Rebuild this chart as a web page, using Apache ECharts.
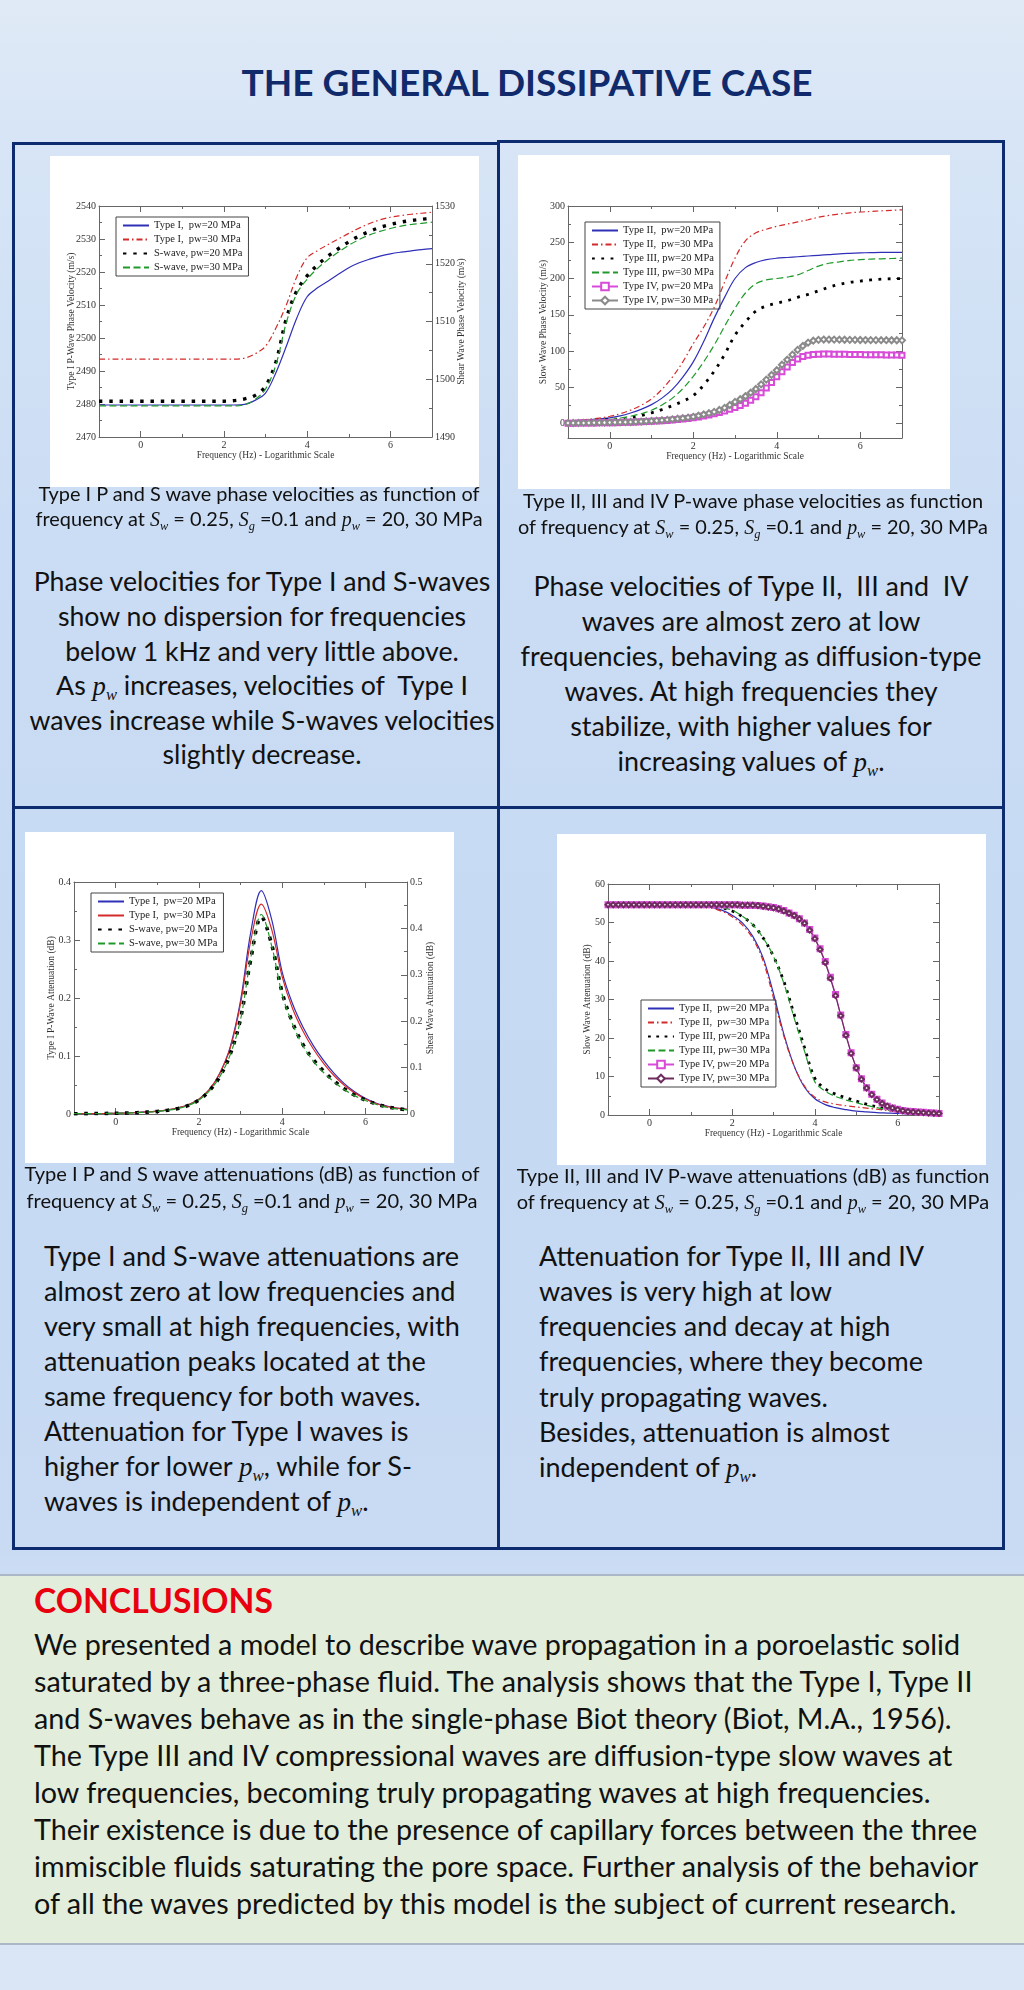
<!DOCTYPE html>
<html><head><meta charset="utf-8">
<script src="https://cdn.jsdelivr.net/npm/echarts@6.0.0/dist/echarts.min.js"></script>
<style>
html,body{margin:0;padding:0;background:#d8e5f5}
#page{position:relative;width:1024px;height:1990px;overflow:hidden;
 background:linear-gradient(180deg,#e0eaf6 0px,#d7e5f6 140px,#cbddf4 520px,#c5d9f3 1100px,#c9dbf3 1550px,#d6e3f5 1700px,#dae6f5 1990px);
 font-family:Lato,'Open Sans',sans-serif;color:#111}
.box{position:absolute;box-sizing:border-box;border:3px solid #0d2b6f}
.hl{position:absolute;background:#0d2b6f}
.chart{position:absolute;background:#fff}
.ln{position:absolute;height:40px;line-height:40px;white-space:nowrap}
.c{text-align:center;width:700px}
.m{font-family:'Liberation Serif','DejaVu Serif',serif;font-style:italic}
sub{font-family:'Liberation Serif','DejaVu Serif',serif;font-style:italic;font-size:0.62em;vertical-align:-0.3em;line-height:0}
#concl{position:absolute;left:-2px;top:1574px;width:1028px;height:371px;box-sizing:border-box;background:#e2eedb;border:2px solid #a9b7c7}
</style></head>
<body><div id="page">

<div class="ln c" data-g="title" style="left:177px;top:62px;font-size:34px;font-weight:700;color:#102a6c"><span>THE GENERAL DISSIPATIVE CASE</span></div>

<div class="box" style="left:12px;top:142px;width:488px;height:1408px"></div>
<div class="box" style="left:497px;top:140px;width:508px;height:1410px"></div>
<div class="hl" style="left:12px;top:806px;width:993px;height:3px"></div>

<div class="chart" id="c1" style="left:50px;top:156px;width:429px;height:331px"></div>
<div class="chart" id="c2" style="left:518px;top:155px;width:432px;height:334px"></div>
<div class="chart" id="c3" style="left:25px;top:832px;width:429px;height:331px"></div>
<div class="chart" id="c4" style="left:557px;top:834px;width:429px;height:331px"></div>

<div class="ln c" data-g="cap1" style="left:-91px;top:473px;font-size:18px"><span>Type I P and S wave phase velocities as function of</span></div>
<div class="ln c" data-g="cap1" style="left:-91px;top:498px;font-size:18px"><span>frequency at <span class="m">S</span><sub>w</sub> = 0.25, <span class="m">S</span><sub>g</sub> =0.1 and <span class="m">p</span><sub>w</sub> = 20, 30 MPa</span></div>

<div class="ln c" data-g="cap2" style="left:403px;top:480px;font-size:18px"><span>Type II, III and IV P-wave phase velocities as function</span></div>
<div class="ln c" data-g="cap2" style="left:403px;top:506px;font-size:18px"><span>of frequency at <span class="m">S</span><sub>w</sub> = 0.25, <span class="m">S</span><sub>g</sub> =0.1 and <span class="m">p</span><sub>w</sub> = 20, 30 MPa</span></div>

<div class="ln c" data-g="body1" style="left:-88px;top:561px;font-size:24px"><span>Phase velocities for Type I and S-waves</span></div>
<div class="ln c" data-g="body1" style="left:-88px;top:596px;font-size:24px"><span>show no dispersion for frequencies</span></div>
<div class="ln c" data-g="body1" style="left:-88px;top:631px;font-size:24px"><span>below 1 kHz and very little above.</span></div>
<div class="ln c" data-g="body1" style="left:-88px;top:665px;font-size:24px"><span>As <span class="m">p</span><sub>w</sub> increases, velocities of &nbsp;Type I</span></div>
<div class="ln c" data-g="body1" style="left:-88px;top:700px;font-size:24px"><span>waves increase while S-waves velocities</span></div>
<div class="ln c" data-g="body1" style="left:-88px;top:734px;font-size:24px"><span>slightly decrease.</span></div>

<div class="ln c" data-g="body2" style="left:401px;top:566px;font-size:24px"><span>Phase velocities of Type II, &nbsp;III and &nbsp;IV</span></div>
<div class="ln c" data-g="body2" style="left:401px;top:601px;font-size:24px"><span>waves are almost zero at low</span></div>
<div class="ln c" data-g="body2" style="left:401px;top:636px;font-size:24px"><span>frequencies, behaving as diffusion-type</span></div>
<div class="ln c" data-g="body2" style="left:401px;top:671px;font-size:24px"><span>waves. At high frequencies they</span></div>
<div class="ln c" data-g="body2" style="left:401px;top:706px;font-size:24px"><span>stabilize, with higher values for</span></div>
<div class="ln c" data-g="body2" style="left:401px;top:741px;font-size:24px"><span>increasing values of <span class="m">p</span><sub>w</sub>.</span></div>

<div class="ln c" data-g="cap3" style="left:-98px;top:1153px;font-size:18px"><span>Type I P and S wave attenuations (dB) as function of</span></div>
<div class="ln c" data-g="cap3" style="left:-98px;top:1180px;font-size:18px"><span>frequency at <span class="m">S</span><sub>w</sub> = 0.25, <span class="m">S</span><sub>g</sub> =0.1 and <span class="m">p</span><sub>w</sub> = 20, 30 MPa</span></div>

<div class="ln c" data-g="cap4" style="left:403px;top:1155px;font-size:18px"><span>Type II, III and IV P-wave attenuations (dB) as function</span></div>
<div class="ln c" data-g="cap4" style="left:403px;top:1181px;font-size:18px"><span>of frequency at <span class="m">S</span><sub>w</sub> = 0.25, <span class="m">S</span><sub>g</sub> =0.1 and <span class="m">p</span><sub>w</sub> = 20, 30 MPa</span></div>

<div class="ln" data-g="body3" style="left:44px;top:1236px;font-size:24px"><span>Type I and S-wave attenuations are</span></div>
<div class="ln" data-g="body3" style="left:44px;top:1271px;font-size:24px"><span>almost zero at low frequencies and</span></div>
<div class="ln" data-g="body3" style="left:44px;top:1306px;font-size:24px"><span>very small at high frequencies, with</span></div>
<div class="ln" data-g="body3" style="left:44px;top:1341px;font-size:24px"><span>attenuation peaks located at the</span></div>
<div class="ln" data-g="body3" style="left:44px;top:1376px;font-size:24px"><span>same frequency for both waves.</span></div>
<div class="ln" data-g="body3" style="left:44px;top:1411px;font-size:24px"><span>Attenuation for Type I waves is</span></div>
<div class="ln" data-g="body3" style="left:44px;top:1446px;font-size:24px"><span>higher for lower <span class="m">p</span><sub>w</sub>, while for S-</span></div>
<div class="ln" data-g="body3" style="left:44px;top:1481px;font-size:24px"><span>waves is independent of <span class="m">p</span><sub>w</sub>.</span></div>

<div class="ln" data-g="body4" style="left:539px;top:1236px;font-size:24px"><span>Attenuation for Type II, III and IV</span></div>
<div class="ln" data-g="body4" style="left:539px;top:1271px;font-size:24px"><span>waves is very high at low</span></div>
<div class="ln" data-g="body4" style="left:539px;top:1306px;font-size:24px"><span>frequencies and decay at high</span></div>
<div class="ln" data-g="body4" style="left:539px;top:1341px;font-size:24px"><span>frequencies, where they become</span></div>
<div class="ln" data-g="body4" style="left:539px;top:1377px;font-size:24px"><span>truly propagating waves.</span></div>
<div class="ln" data-g="body4" style="left:539px;top:1412px;font-size:24px"><span>Besides, attenuation is almost</span></div>
<div class="ln" data-g="body4" style="left:539px;top:1447px;font-size:24px"><span>independent of <span class="m">p</span><sub>w</sub>.</span></div>

<div id="concl"></div>
<div class="ln" data-g="ctitle" style="left:34px;top:1580px;font-size:34px;font-weight:700;color:#e8000f"><span>CONCLUSIONS</span></div>
<div class="ln" data-g="cbody" style="left:34px;top:1624px;font-size:27px"><span>We presented a model to describe wave propagation in a poroelastic solid</span></div>
<div class="ln" data-g="cbody" style="left:34px;top:1661px;font-size:27px"><span>saturated by a three-phase fluid. The analysis shows that the Type I, Type II</span></div>
<div class="ln" data-g="cbody" style="left:34px;top:1698px;font-size:27px"><span>and S-waves behave as in the single-phase Biot theory (Biot, M.A., 1956).</span></div>
<div class="ln" data-g="cbody" style="left:34px;top:1735px;font-size:27px"><span>The Type III and IV compressional waves are diffusion-type slow waves at</span></div>
<div class="ln" data-g="cbody" style="left:34px;top:1772px;font-size:27px"><span>low frequencies, becoming truly propagating waves at high frequencies.</span></div>
<div class="ln" data-g="cbody" style="left:34px;top:1809px;font-size:27px"><span>Their existence is due to the presence of capillary forces between the three</span></div>
<div class="ln" data-g="cbody" style="left:34px;top:1846px;font-size:27px"><span>immiscible fluids saturating the pore space. Further analysis of the behavior</span></div>
<div class="ln" data-g="cbody" style="left:34px;top:1883px;font-size:27px"><span>of all the waves predicted by this model is the subject of current research.</span></div>

</div>
<script>
// ---------------- data ----------------
const freqQ = [-1,-0.75,-0.5,-0.25,0,0.25,0.5,0.75,1,1.25,1.5,1.75,2,2.25,2.5,2.75,3,3.25,3.5,3.75,4,4.25,4.5,4.75,5,5.25,5.5,5.75,6,6.25,6.5,6.75,7];
const freqE = [-1,-0.875,-0.75,-0.625,-0.5,-0.375,-0.25,-0.125,0,0.125,0.25,0.375,0.5,0.625,0.75,0.875,1,1.125,1.25,1.375,1.5,1.625,1.75,1.875,2,2.125,2.25,2.375,2.5,2.625,2.75,2.875,3,3.125,3.25,3.375,3.5,3.625,3.75,3.875,4,4.125,4.25,4.375,4.5,4.625,4.75,4.875,5,5.125,5.25,5.375,5.5,5.625,5.75,5.875,6,6.125,6.25,6.375,6.5,6.625,6.75,6.875,7];

// chart 1: phase velocities Type I (left axis) and S-wave (right axis)
const velTypeI20 = [2479.7,2479.7,2479.7,2479.7,2479.7,2479.7,2479.7,2479.7,2479.7,2479.7,2479.7,2479.7,2479.7,2479.7,2479.9,2481.1,2483.3,2489.5,2497.5,2506.0,2512.5,2515.2,2517.2,2519.3,2521.3,2522.8,2523.9,2524.8,2525.5,2526.0,2526.4,2526.8,2527.1];
const velTypeI30 = [2493.6,2493.6,2493.6,2493.6,2493.6,2493.6,2493.6,2493.6,2493.6,2493.6,2493.6,2493.6,2493.6,2493.6,2493.9,2495.2,2497.5,2503.0,2510.0,2518.5,2524.3,2526.5,2528.3,2530.0,2531.7,2533.3,2534.7,2535.8,2536.6,2537.1,2537.5,2537.8,2538.1];
const velS20 = [1496.2,1496.2,1496.2,1496.2,1496.2,1496.2,1496.2,1496.2,1496.2,1496.2,1496.2,1496.2,1496.2,1496.3,1496.6,1497.2,1498.8,1503.0,1510.5,1515.3,1517.9,1519.8,1521.3,1522.6,1523.8,1524.8,1525.6,1526.3,1526.8,1527.2,1527.5,1527.7,1527.9];
const velS30 = [1495.4,1495.4,1495.4,1495.4,1495.4,1495.4,1495.4,1495.4,1495.4,1495.4,1495.4,1495.4,1495.4,1495.4,1495.6,1496.5,1498.3,1502.5,1509.8,1514.8,1517.3,1519.2,1520.7,1522.0,1523.2,1524.2,1525.0,1525.6,1526.1,1526.5,1526.8,1527.0,1527.2];

// chart 2: slow wave phase velocities
const velII20 = [3.2,4.2,5.2,6.4,7.8,10.5,14.5,19.5,26,35,47,64,85,113,145,174,200,215,222,226,228,229,230,231,232,233,234,234.7,235.3,235.7,236,236,236];
const velII30 = [3.5,4.5,5.8,7.5,10,13.5,18.5,25,34,47,64,85,110,133,160,195,228,252,263,268,272,275,278,281,284.5,287,289,290.5,291.7,292.5,293.3,294,294.7];
const velIII20 = [1.8,2.3,3.2,4.6,5.5,6.4,7.8,11,14.7,19.2,24.7,30.7,38.5,53,72,95,122,140,155,162,166,169.5,174,178,183,188,192,194.7,196.5,198,199,199.7,200];
const velIII30 = [1.8,2.5,3.2,4.3,5.5,7.5,10,13.5,18.3,25.5,35,48,65,85,108,134,159,180,193,198,200,202,205,211,217,221,223,225,226,226.7,227.2,227.6,228];
const velIV20 = [0.5,0.5,0.6,0.6,0.7,0.8,0.9,1.0,1.1,1.2,1.4,1.6,1.8,2.0,2.3,2.6,3.0,3.4,3.8,4.3,4.9,5.5,6.2,7.0,7.9,9.0,10.3,11.7,13.3,15.2,17.3,19.6,22.0,24.8,28.0,32.0,36.8,42.5,49.0,56.5,64.5,71.5,78.0,84.0,89.0,92.3,94.3,95.2,95.6,95.7,95.7,95.6,95.5,95.4,95.3,95.2,95.1,95.0,94.9,94.8,94.7,94.6,94.5,94.4,94.3];
const velIV30 = [0.6,0.7,0.7,0.8,0.9,1.0,1.1,1.2,1.3,1.5,1.7,1.9,2.1,2.4,2.7,3.1,3.5,4.0,4.5,5.1,5.8,6.5,7.3,8.2,9.2,10.7,12.4,14.1,16.0,18.6,21.5,25.5,29.8,33.5,37.6,42.5,47.6,54.0,60.5,67.0,73.5,81.0,88.0,95.0,101.5,107.0,111.5,114.2,115.4,115.8,115.8,115.7,115.6,115.5,115.4,115.3,115.2,115.1,115.0,115.0,114.9,114.9,114.8,114.8,114.7];

// chart 3: attenuations Type I (left axis) and S-wave (right axis)
const attI20 = [0.0005,0.0006,0.0008,0.0010,0.0013,0.0018,0.0025,0.0035,0.0050,0.0072,0.0105,0.0160,0.0255,0.042,0.070,0.115,0.195,0.315,0.385,0.335,0.245,0.190,0.150,0.118,0.092,0.070,0.052,0.038,0.027,0.019,0.014,0.010,0.008];
const attI30 = [0.0005,0.0006,0.0008,0.0010,0.0013,0.0018,0.0025,0.0035,0.0050,0.0072,0.0105,0.0160,0.0255,0.042,0.070,0.113,0.190,0.300,0.362,0.318,0.237,0.182,0.143,0.112,0.087,0.066,0.049,0.036,0.026,0.018,0.013,0.010,0.008];
const attS20 = [0.0006,0.0008,0.001,0.0012,0.0015,0.002,0.0028,0.004,0.0055,0.008,0.0118,0.0185,0.030,0.050,0.080,0.128,0.205,0.335,0.425,0.365,0.262,0.197,0.150,0.117,0.092,0.071,0.054,0.040,0.030,0.022,0.016,0.012,0.009];
const attS30 = [0.0006,0.0008,0.001,0.0012,0.0015,0.002,0.0028,0.004,0.0055,0.008,0.0118,0.0185,0.030,0.050,0.080,0.127,0.203,0.338,0.430,0.362,0.258,0.194,0.147,0.114,0.089,0.069,0.052,0.039,0.029,0.021,0.015,0.011,0.009];

// chart 4: slow wave attenuations
const attII20 = [54.6,54.6,54.6,54.6,54.6,54.6,54.6,54.6,54.6,54.4,54.0,53.2,51.9,49.9,46.4,40.8,31.5,21.0,12.7,7.2,4.2,2.7,1.9,1.4,1.0,0.8,0.6,0.5,0.4,0.35,0.3,0.25,0.2];
const attII30 = [54.6,54.6,54.6,54.6,54.6,54.6,54.6,54.6,54.6,54.3,53.8,52.9,51.5,49.3,45.8,40.0,30.4,20.5,12.7,7.5,4.6,3.4,2.8,2.4,2.1,1.8,1.5,1.2,1.0,0.8,0.65,0.55,0.5];
const attIII20 = [54.6,54.6,54.6,54.6,54.6,54.6,54.6,54.6,54.6,54.6,54.4,53.9,53.0,51.5,49.4,46.0,41.2,34.7,26.1,17.5,9.5,6.8,5.4,4.5,3.6,2.8,2.1,1.5,1.0,0.7,0.5,0.4,0.3];
const attIII30 = [54.6,54.6,54.6,54.6,54.6,54.6,54.6,54.6,54.6,54.6,54.3,53.8,53.2,51.6,49.4,46.0,41.2,34.2,25.2,16.6,8.6,6.2,4.8,3.9,3.2,2.5,1.9,1.4,1.0,0.8,0.6,0.5,0.4];
const attIV20 = [54.6,54.6,54.6,54.6,54.6,54.6,54.6,54.6,54.6,54.6,54.6,54.6,54.6,54.6,54.6,54.6,54.6,54.6,54.6,54.6,54.6,54.6,54.6,54.6,54.6,54.6,54.5,54.5,54.5,54.4,54.3,54.1,53.9,53.6,53.1,52.5,51.9,51.0,49.9,48.2,46.0,43.2,39.9,35.8,31.3,26.0,20.9,16.2,12.3,9.4,7.1,5.4,4.1,3.1,2.3,1.8,1.5,1.2,1.0,0.9,0.8,0.7,0.6,0.5,0.4];
const attIV30 = [54.6,54.6,54.6,54.6,54.6,54.6,54.6,54.6,54.6,54.6,54.6,54.6,54.6,54.6,54.6,54.6,54.6,54.6,54.6,54.6,54.6,54.6,54.6,54.6,54.6,54.6,54.5,54.5,54.5,54.4,54.2,54.0,53.8,53.5,53.0,52.4,51.8,50.9,49.8,48.0,45.8,43.0,39.6,35.5,31.0,25.8,20.7,16.0,12.2,9.3,7.0,5.3,4.0,3.0,2.3,1.8,1.4,1.1,0.9,0.8,0.7,0.6,0.5,0.45,0.4];

// ticks
const xMajorTicks = [0,2,4,6], xMinorTicks = [1,3,5];
const c1LeftTicks = [2470,2480,2490,2500,2510,2520,2530,2540], c1LeftMinor = [2475,2485,2495,2505,2515,2525,2535];
const c1RightTicks = [1490,1500,1510,1520,1530], c1RightMinor = [1495,1505,1515,1525];
const c2Ticks = [0,50,100,150,200,250,300], c2Minor = [25,75,125,175,225,275];
const c3LeftTicks = [0,0.1,0.2,0.3,0.4], c3LeftMinor = [0.05,0.15,0.25,0.35];
const c3RightTicks = [0,0.1,0.2,0.3,0.4,0.5], c3RightMinor = [0.05,0.15,0.25,0.35,0.45];
const c4Ticks = [0,10,20,30,40,50,60], c4Minor = [5,15,25,35,45,55];

// ---------------- helpers ----------------
const SERIF = "'Liberation Serif','DejaVu Serif',serif";
const AXC = '#666';
const BLUE='#2f2fb8', RED='#d42a2a', GREEN='#1f9a2a', MAG='#d84ad8', GRAY='#8a8a8a', PLUM='#6e2c5e';
const XTITLE = 'Frequency (Hz) - Logarithmic Scale';

function ax(pos, min, max, ticks, len, o){
  o = o || {};
  const a = {type:'value', position:pos, min:min, max:max, offset:0,
    splitLine:{show:false},
    axisLine:{show:!!o.line, onZero:false, lineStyle:{color:AXC, width:1}},
    axisTick:{show:true, inside:true, length:len, customValues:ticks, lineStyle:{color:AXC, width:1}},
    axisLabel:{show:false}, nameMoveOverlap:false};
  if (o.labels) a.axisLabel = {show:true, customValues:ticks, color:'#333', fontFamily:SERIF, fontSize:10, margin:3,
    formatter:(v)=>String(Math.round(v*1000)/1000)};
  if (o.name) { a.name = o.name; a.nameLocation = 'middle'; a.nameGap = o.gap;
    a.nameTextStyle = {fontFamily:SERIF, fontSize:9.5, color:'#333'}; }
  return a;
}
function xAxes(){
  return [ax('bottom',-1,7,xMajorTicks,6,{line:true,labels:true,name:XTITLE,gap:13}),
          ax('bottom',-1,7,xMinorTicks,3),
          ax('top',-1,7,xMajorTicks,6,{line:true}),
          ax('top',-1,7,xMinorTicks,3)];
}
// axis titles sit on the label-less minor axes so they are not pushed away from tick labels
function yAxes(L, R){
  return [ax('left',L.min,L.max,L.major,6,{line:true,labels:true}),
          ax('left',L.min,L.max,L.minor,3,{name:L.name,gap:L.gap}),
          ax('right',R.min,R.max,R.major,6,{line:true,labels:R.labels}),
          ax('right',R.min,R.max,R.minor,3,{name:R.name,gap:R.gap})];
}
const solid = (c)=>({color:c,width:1.2,type:'solid'});
const dashdot = (c)=>({color:c,width:1.2,type:[6,3,1.5,3]});
const dashed = (c)=>({color:c,width:1.2,type:[7,3.5]});
const dotted = (w,g)=>({color:'#000',width:w,type:[w,g],cap:'butt'});
function S(name, xs, ys, yi, ls, extra){
  return Object.assign({name:name, type:'line', xAxisIndex:0, yAxisIndex:yi,
    data: xs.map((x,i)=>[x, ys[i]]), showSymbol:false, symbol:'none', smooth:0.35,
    lineStyle:ls, itemStyle:{color:ls.color}, emphasis:{disabled:true}, animation:false}, extra||{});
}
// names with markers keep their symbol in the legend; pure lines hide it
function legend(left, top, names, withSym){
  return {orient:'vertical', left:left, top:top, selectedMode:false,
    data: names.map(n => withSym.indexOf(n) >= 0 ? {name:n} : {name:n, itemStyle:{opacity:0}}),
    borderColor:'#444', borderWidth:1, padding:[3,6,3,6], itemGap:3, itemWidth:26, itemHeight:9.5,
    textStyle:{fontFamily:SERIF, fontSize:10.5, color:'#222'}};
}
function mk(id, grid, yA, lg, series){
  const ch = echarts.init(document.getElementById(id), null, {renderer:'canvas'});
  ch.setOption({animation:false, backgroundColor:'#fff', textStyle:{fontFamily:SERIF},
    grid:Object.assign({containLabel:false, outerBoundsMode:'none'}, grid),
    xAxis:xAxes(), yAxis:yA, legend:lg, series:series});
}
const symIV = (sym, c, sz)=>({showSymbol:true, showAllSymbol:true, symbol:sym, symbolSize:sz, smooth:false,
   itemStyle:{color:c, borderColor:c, borderWidth:1}});

// chart 1
const n1 = ['Type I,  pw=20 MPa','Type I,  pw=30 MPa','S-wave, pw=20 MPa','S-wave, pw=30 MPa'];
mk('c1', {left:49,right:47,top:50,bottom:50},
  yAxes({min:2470,max:2540,major:c1LeftTicks,minor:c1LeftMinor,name:'Type I P-Wave Phase Velocity (m/s)',gap:23},
        {min:1490,max:1530,major:c1RightTicks,minor:c1RightMinor,labels:true,name:'Shear Wave Phase Velocity (m/s)',gap:24}),
  legend(66,61,n1,[]),
  [S(n1[0],freqQ,velTypeI20,0,solid(BLUE)), S(n1[1],freqQ,velTypeI30,0,dashdot(RED)),
   S(n1[2],freqQ,velS20,2,dotted(3.4,6.9)), S(n1[3],freqQ,velS30,2,dashed(GREEN))]);

// chart 2
const n2 = ['Type II,  pw=20 MPa','Type II,  pw=30 MPa','Type III, pw=20 MPa','Type III, pw=30 MPa','Type IV, pw=20 MPa','Type IV, pw=30 MPa'];
mk('c2', {left:50,right:48,top:51,bottom:51},
  yAxes({min:-20,max:300,major:c2Ticks,minor:c2Minor,name:'Slow Wave Phase Velocity (m/s)',gap:20},
        {min:-20,max:300,major:c2Ticks,minor:c2Minor,labels:false}),
  legend(67,67,n2,[n2[4],n2[5]]),
  [S(n2[0],freqQ,velII20,0,solid(BLUE)), S(n2[1],freqQ,velII30,0,dashdot(RED)),
   S(n2[2],freqQ,velIII20,0,dotted(2.8,6.5)), S(n2[3],freqQ,velIII30,0,dashed(GREEN)),
   S(n2[4],freqE,velIV20,0,solid(MAG),symIV('emptyRect',MAG,5)),
   S(n2[5],freqE,velIV30,0,solid(GRAY),symIV('emptyDiamond',GRAY,6))]);

// chart 3
const n3 = ['Type I,  pw=20 MPa','Type I,  pw=30 MPa','S-wave, pw=20 MPa','S-wave, pw=30 MPa'];
mk('c3', {left:49,right:47,top:50,bottom:49},
  yAxes({min:0,max:0.4,major:c3LeftTicks,minor:c3LeftMinor,name:'Type I P-Wave Attenuation (dB)',gap:18},
        {min:0,max:0.5,major:c3RightTicks,minor:c3RightMinor,labels:true,name:'Shear Wave Attenuation (dB)',gap:18}),
  legend(66,61,n3,[]),
  [S(n3[0],freqQ,attI20,0,solid(BLUE)), S(n3[1],freqQ,attI30,0,solid(RED)),
   S(n3[2],freqQ,attS20,2,dotted(3.6,6.6)), S(n3[3],freqQ,attS30,2,dashed(GREEN))]);

// chart 4
const n4 = n2;
mk('c4', {left:51,right:47,top:50,bottom:50},
  yAxes({min:0,max:60,major:c4Ticks,minor:c4Minor,name:'Slow Wave Attenuation (dB)',gap:16},
        {min:0,max:60,major:c4Ticks,minor:c4Minor,labels:false}),
  legend(84,166,n4,[n4[4],n4[5]]),
  [S(n4[0],freqQ,attII20,0,solid(BLUE)), S(n4[1],freqQ,attII30,0,dashdot(RED)),
   S(n4[2],freqQ,attIII20,0,dotted(2.8,5.5)), S(n4[3],freqQ,attIII30,0,dashed(GREEN)),
   S(n4[4],freqE,attIV20,0,solid(MAG),symIV('emptyRect',MAG,5)),
   S(n4[5],freqE,attIV30,0,solid(PLUM),symIV('emptyDiamond',PLUM,5))]);

// ---------------- text width fitting ----------------
const TARGETS = {title:571, cap1:447, cap2:470, body1:465, body2:461, cap3:455, cap4:473, body3:416, body4:385, ctitle:239, cbody:944};
function fitAll(){
  const groups = {};
  document.querySelectorAll('.ln').forEach(l=>{ (groups[l.dataset.g] = groups[l.dataset.g] || []).push(l); });
  for (const g in groups){
    const ls = groups[g];
    const fs0 = parseFloat(getComputedStyle(ls[0]).fontSize);
    let mx = 0;
    ls.forEach(l=>{ mx = Math.max(mx, l.firstElementChild.getBoundingClientRect().width); });
    if (mx > 0) { const fs = fs0 * TARGETS[g] / mx; ls.forEach(l=>{ l.style.fontSize = fs + 'px'; }); }
  }
}
fitAll();
if (document.fonts && document.fonts.ready) document.fonts.ready.then(fitAll);
</script>
</body></html>
